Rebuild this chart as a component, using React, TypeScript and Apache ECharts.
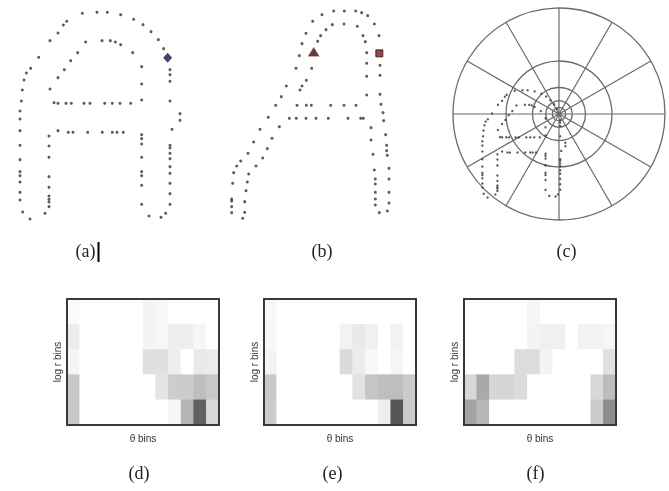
import React, { useEffect, useRef } from "react";
import * as echarts from "echarts";

// Sample points of shape (a), in reference units (3 units = 1 px of panel a)
const shapeAPoints: number[][] = [
  [247, 40], [291, 37], [322, 37], [362, 44], [401, 58], [429, 74], [453, 95], [475, 119], [491, 146],
  [200, 64], [190, 75], [174, 99], [150, 122], [116, 172], [92, 205], [79, 219], [72, 240], [67, 270],
  [64, 303], [60, 333], [60, 357], [60, 392], [60, 436], [60, 479], [60, 515], [60, 527], [60, 546],
  [60, 577], [60, 600], [68, 636], [90, 657],
  [135, 640], [147, 620], [147, 606], [147, 598], [147, 588], [147, 562], [147, 530], [147, 472], [147, 438], [147, 408],
  [257, 126], [306, 122], [331, 122], [346, 126], [362, 134], [398, 158], [425, 200], [425, 252], [425, 300],
  [233, 158], [212, 182], [193, 209], [174, 233], [150, 267],
  [162, 308], [174, 310], [198, 310], [214, 310], [252, 310], [270, 310], [314, 310], [337, 310], [360, 310], [392, 310],
  [174, 392], [205, 397], [219, 397], [263, 397], [307, 397], [337, 397], [351, 397], [370, 397],
  [425, 404], [425, 416], [425, 432], [425, 472], [425, 515], [425, 527], [425, 556], [425, 613], [447, 648], [483, 652], [497, 640],
  [510, 209], [510, 224], [510, 244], [510, 303], [540, 341], [540, 361], [516, 388], [510, 436], [510, 444],
  [510, 460], [510, 476], [510, 500], [510, 520], [510, 550], [510, 581], [510, 613],
];
const shapeARef: number[][] = [[503, 173]];

// Sample points of shape (b)
const shapeBPoints: number[][] = [
  [336, 44], [371, 33], [403, 33], [437, 33], [455, 38], [473, 47], [493, 72], [507, 107],
  [510, 196], [510, 226], [510, 283], [513, 313], [519, 338], [521, 362], [527, 404], [530, 436], [530, 452],
  [532, 466], [537, 505], [537, 537], [537, 577], [537, 609], [532, 633],
  [308, 64], [288, 100], [276, 131], [268, 167], [258, 205], [229, 258], [214, 290], [197, 316], [175, 352],
  [150, 388], [131, 426], [114, 460], [92, 483], [80, 498], [71, 518], [68, 550], [65, 597], [65, 603],
  [65, 620], [65, 638], [98, 655],
  [367, 74], [348, 89], [332, 107], [323, 124], [305, 205], [289, 241], [276, 258], [270, 270],
  [208, 380], [186, 415], [172, 446], [158, 474], [138, 498], [116, 522], [112, 546], [108, 572], [104, 605], [104, 637],
  [261, 316], [289, 316], [304, 316], [362, 316], [402, 316], [438, 316],
  [238, 355], [259, 355], [288, 355], [318, 355], [355, 355], [414, 355], [452, 355], [460, 355],
  [402, 72], [442, 79], [459, 107], [466, 125], [470, 158], [470, 190], [470, 229], [470, 285],
  [483, 383], [483, 420], [489, 463], [493, 510], [496, 537], [496, 552], [496, 577], [496, 597], [496, 615], [508, 638],
];
const shapeBTriangle: number[][] = [[311, 156]];
const shapeBSquare: number[][] = [[508, 160]];

// Histogram bins: 5 log r rows (top to bottom) x 12 theta columns, darkness 0..1
const histD: number[][] = [
  [0.02, 0, 0, 0, 0, 0, 0.054, 0.034, 0, 0, 0, 0],
  [0.093, 0, 0, 0, 0, 0, 0.054, 0.04, 0.083, 0.083, 0.044, 0],
  [0.05, 0, 0, 0, 0, 0, 0.15, 0.15, 0.083, 0, 0.11, 0.1],
  [0.27, 0, 0, 0, 0, 0, 0, 0.13, 0.25, 0.25, 0.32, 0.27],
  [0.27, 0, 0, 0, 0, 0, 0, 0, 0.044, 0.37, 0.78, 0.19],
];
const histE: number[][] = [
  [0.034, 0, 0, 0, 0, 0, 0, 0, 0, 0, 0, 0],
  [0.04, 0, 0, 0, 0, 0, 0.064, 0.11, 0.074, 0, 0.064, 0],
  [0.06, 0, 0, 0, 0, 0, 0.18, 0.093, 0.034, 0, 0.05, 0],
  [0.27, 0, 0, 0, 0, 0, 0, 0.14, 0.28, 0.32, 0.32, 0.255],
  [0.25, 0, 0, 0, 0, 0, 0, 0, 0, 0.083, 0.83, 0.25],
];
const histF: number[][] = [
  [0, 0, 0, 0, 0, 0.044, 0, 0, 0, 0, 0, 0],
  [0, 0, 0, 0, 0, 0.054, 0.074, 0.074, 0, 0.064, 0.064, 0.044],
  [0, 0, 0, 0, 0.17, 0.17, 0.06, 0, 0, 0, 0, 0.15],
  [0.19, 0.42, 0.2, 0.2, 0.17, 0, 0, 0, 0, 0, 0.19, 0.33],
  [0.45, 0.36, 0, 0, 0, 0, 0, 0, 0, 0, 0.25, 0.56],
];
const thetaBins = ["1", "2", "3", "4", "5", "6", "7", "8", "9", "10", "11", "12"];
const logRBins = ["1", "2", "3", "4", "5"];
const panelLabels = ["(a)", "(b)", "(c)", "(d)", "(e)", "(f)"];
const ringRadii = [106, 53, 26.5, 13.2, 6.6];

const toCells = (h: number[][]) => {
  const out: number[][] = [];
  h.forEach((row, r) => row.forEach((v, c) => out.push([c, r, v])));
  return out;
};

export default function App() {
  const ref = useRef<HTMLDivElement>(null);
  useEffect(() => {
    document.body.style.margin = "0";
    const chart = echarts.init(ref.current!, undefined, { renderer: "svg" });
    const polarCenter = [559, 114];
    const hidden = { show: false };
    const shapeAxes = (min: number, max: number, inverse: boolean) => ({
      type: "value", min, max, inverse, show: false, scale: true,
    });
    const heatGrids = [
      { left: 67, top: 299, width: 152, height: 126 },
      { left: 264, top: 299, width: 152, height: 126 },
      { left: 464, top: 299, width: 152, height: 126 },
    ];
    const nameStyle = { color: "#333", fontSize: 10, fontFamily: "Liberation Sans" };
    const option: any = {
      animation: false,
      grid: [
        { left: 0, top: 0, width: 230, height: 230 },
        { left: 210, top: 0, width: 230, height: 230 },
        { left: 454, top: 8, width: 210, height: 210 },
        ...heatGrids.map((g) => ({ ...g, show: true, borderColor: "#3a3a3a", borderWidth: 2, backgroundColor: "transparent", z: 3 })),
      ],
      xAxis: [
        { gridIndex: 0, ...shapeAxes(0, 690, false) },
        { gridIndex: 1, ...shapeAxes(0, 690, false) },
        { gridIndex: 2, ...shapeAxes(-104, 1110, false) },
        ...[3, 4, 5].map((gi) => ({
          gridIndex: gi, type: "category", data: thetaBins,
          axisLine: hidden, axisTick: hidden, axisLabel: hidden, splitLine: hidden,
          name: "θ bins", nameLocation: "middle", nameGap: 8, nameTextStyle: nameStyle,
        })),
      ],
      yAxis: [
        { gridIndex: 0, ...shapeAxes(0, 690, true) },
        { gridIndex: 1, ...shapeAxes(0, 690, true) },
        { gridIndex: 2, ...shapeAxes(-438, 776, true) },
        ...[3, 4, 5].map((gi) => ({
          gridIndex: gi, type: "category", data: logRBins, inverse: true,
          axisLine: hidden, axisTick: hidden, axisLabel: hidden, splitLine: hidden,
          name: "log r bins", nameLocation: "middle", nameGap: 5, nameRotate: 90, nameTextStyle: nameStyle,
        })),
      ],
      polar: ringRadii.map((r) => ({ center: polarCenter, radius: r })),
      angleAxis: ringRadii.map((_, i) => ({
        polarIndex: i, type: "value", min: 0, max: 360, interval: 30, startAngle: 90,
        axisLine: { show: true, lineStyle: { color: "#6a6a6a", width: 1.3 } },
        axisTick: hidden, axisLabel: hidden,
        splitLine: { show: i === 0, lineStyle: { color: "#6a6a6a", width: 1.2 } },
      })),
      radiusAxis: ringRadii.map((_, i) => ({ polarIndex: i, type: "value", min: 0, max: 1, show: false })),
      visualMap: {
        type: "continuous", min: 0, max: 1, show: false, seriesIndex: [6, 7, 8],
        inRange: { color: ["#ffffff", "#333333"] },
      },
      series: [
        { type: "scatter", xAxisIndex: 0, yAxisIndex: 0, data: shapeAPoints, symbolSize: 3, itemStyle: { color: "#333" }, z: 3 },
        { type: "scatter", xAxisIndex: 0, yAxisIndex: 0, data: shapeARef, symbol: "diamond", symbolSize: [9, 10], itemStyle: { color: "#15154a" }, z: 4 },
        { type: "scatter", xAxisIndex: 1, yAxisIndex: 1, data: shapeBPoints, symbolSize: 3, itemStyle: { color: "#333" }, z: 3 },
        { type: "scatter", xAxisIndex: 1, yAxisIndex: 1, data: shapeBTriangle, symbol: "triangle", symbolSize: [10, 8], itemStyle: { color: "#2a1414", borderColor: "#8a2a2a", borderWidth: 1 }, z: 4 },
        { type: "scatter", xAxisIndex: 1, yAxisIndex: 1, data: shapeBSquare, symbol: "rect", symbolSize: 7, itemStyle: { color: "#7a1c1c", borderColor: "#2e0c0c", borderWidth: 1 }, z: 4 },
        { type: "scatter", xAxisIndex: 2, yAxisIndex: 2, data: shapeAPoints, symbolSize: 2.4, itemStyle: { color: "#333" }, z: 5 },
        ...[histD, histE, histF].map((h, i) => ({
          type: "heatmap", xAxisIndex: 3 + i, yAxisIndex: 3 + i, data: toCells(h),
          itemStyle: { borderWidth: 0 }, emphasis: { disabled: true },
        })),
      ],
      graphic: [
        ...[[85.5, 251], [322, 251], [566.5, 251], [139, 473], [332.5, 473], [535.5, 473]].map((p, i) => ({
          type: "text", x: p[0], y: p[1],
          style: { text: panelLabels[i], fill: "#222", font: '18px "Liberation Serif"', align: "center", verticalAlign: "middle" },
        })),
        { type: "rect", shape: { x: 97.5, y: 242, width: 2, height: 20 }, style: { fill: "#000" } },
      ],
    };
    chart.setOption(option);
    return () => chart.dispose();
  }, []);
  return <div ref={ref} style={{ position: "fixed", left: 0, top: 0, width: 669, height: 491 }} />;
}
